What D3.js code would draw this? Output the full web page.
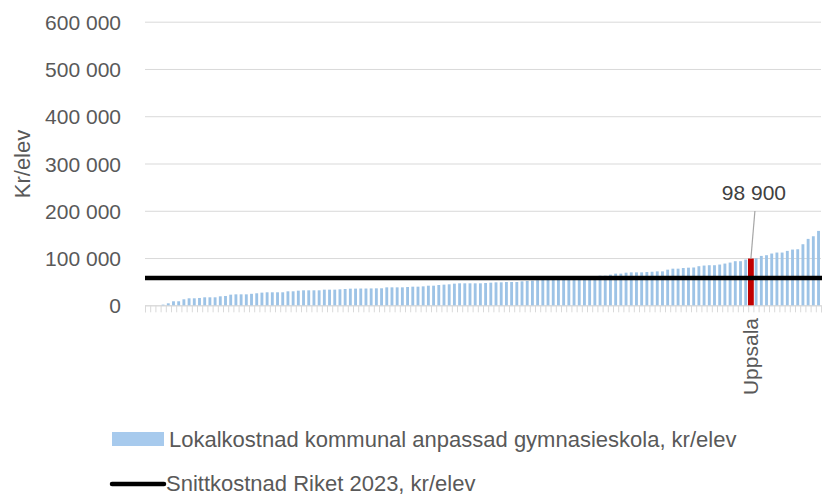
<!DOCTYPE html>
<html>
<head>
<meta charset="utf-8">
<script src="https://cdn.jsdelivr.net/npm/d3@7"></script>
<style>
  body { margin: 0; background: #fff; }
  svg { display: block; font-family: "Liberation Sans", Arial, sans-serif; }
  .yaxis text { fill: #595959; font-size: 21px; }
  .yaxis line { stroke: #d9d9d9; }
  .xaxis line, .xaxis path { stroke: #d9d9d9; }
</style>
</head>
<body>
<svg id="chart" width="822" height="495"></svg>
<script>
// lokalkostnad per kommun, sorterad stigande (kr/elev)
const lokalkostnad = [
  0, 0, 0, 1400, 4200, 8500, 8500, 12700, 14800, 14800,
  15500, 16900, 16900, 16900, 19000, 19700, 22500, 23200, 23200, 23200,
  24300, 25400, 26800, 27500, 27500, 27500, 27500, 29600, 29600, 31000,
  31700, 31700, 31700, 31700, 33100, 33100, 33100, 33800, 34500, 35200,
  35300, 35500, 35500, 35700, 35900, 36000, 38000, 38000, 38000, 38000,
  38700, 39400, 39400, 40100, 41500, 41500, 42900, 43700, 44400, 45800,
  46500, 46500, 46500, 46500, 46500, 47200, 47900, 48600, 48600, 49300,
  49300, 49300, 50700, 51500, 52200, 53000, 53700, 54400, 55000, 55600,
  56200, 56800, 57500, 58200, 59000, 60000, 61500, 62700, 62700, 64800,
  67000, 67000, 69000, 69700, 69700, 69700, 70400, 71000, 71800, 71800,
  75400, 77500, 77500, 78900, 79600, 80000, 82700, 84100, 84800, 84800,
  86200, 88300, 90400, 93300, 93300, 96800, 98900, 99500, 104500, 106000,
  109500, 111600, 111600, 115100, 117900, 118600, 129200, 140500, 146100, 157400
];
const markeradKommun = "Uppsala";
const markeradIndex = 116;
const snittRiket = 58000;
const yTicks = [0, 100000, 200000, 300000, 400000, 500000, 600000];
const yTitel = "Kr/elev";
const legendStapel = "Lokalkostnad kommunal anpassad gymnasieskola, kr/elev";
const legendLinje = "Snittkostnad Riket 2023, kr/elev";

const svg = d3.select("#chart");
const plotLeft = 145, plotRight = 821, plotTop = 21.7, plotBottom = 305.3;

const x = d3.scaleBand()
  .domain(d3.range(lokalkostnad.length))
  .range([plotLeft, plotRight])
  .paddingInner(0.45)
  .paddingOuter(0.2);
const xEdges = d3.scaleLinear().domain([0, lokalkostnad.length]).range([plotLeft, plotRight]);
const y = d3.scaleLinear().domain([0, 600000]).range([plotBottom, plotTop]);

const fmt = d => d3.format(",")(d).replace(/,/g, "\u00a0");

// grid + labels
svg.append("g")
  .attr("class", "yaxis")
  .attr("transform", `translate(${plotLeft},0)`)
  .call(d3.axisLeft(y).tickValues(yTicks).tickSize(-(plotRight - plotLeft)).tickPadding(24).tickFormat(fmt))
  .call(g => g.select(".domain").remove())
  .call(g => g.selectAll("text").attr("dy", "0.36em"));

// category ticks under the baseline
svg.append("g")
  .attr("class", "xaxis")
  .attr("transform", `translate(0,${plotBottom})`)
  .call(d3.axisBottom(xEdges).tickValues(d3.range(lokalkostnad.length + 1)).tickSize(7).tickFormat(""));

svg.append("g")
  .selectAll("rect")
  .data(lokalkostnad)
  .join("rect")
  .attr("x", (d, i) => i === markeradIndex ? x(i) + x.bandwidth() / 2 - 2.9 : x(i))
  .attr("width", (d, i) => i === markeradIndex ? 5.8 : x.bandwidth())
  .attr("y", d => y(d))
  .attr("height", d => plotBottom - y(d))
  .attr("fill", (d, i) => i === markeradIndex ? "#c00000" : "#9dc3e6");

// rikssnitt
svg.append("line")
  .attr("x1", plotLeft).attr("x2", plotRight + 1)
  .attr("y1", y(snittRiket)).attr("y2", y(snittRiket))
  .attr("stroke", "#000").attr("stroke-width", 4.5);

// data label for the highlighted kommun
const hx = x(markeradIndex) + x.bandwidth() / 2;
const hv = lokalkostnad[markeradIndex];
svg.append("line")
  .attr("x1", hx + 4).attr("y1", 211)
  .attr("x2", hx).attr("y2", y(hv))
  .attr("stroke", "#a6a6a6").attr("stroke-width", 1.2);
svg.append("text")
  .attr("x", hx + 3).attr("y", 200)
  .attr("text-anchor", "middle")
  .attr("fill", "#404040")
  .attr("font-size", 21)
  .text(fmt(hv));

svg.append("text")
  .attr("transform", `translate(${hx + 7},318) rotate(-90)`)
  .attr("text-anchor", "end")
  .attr("fill", "#595959")
  .attr("font-size", 21)
  .text(markeradKommun);

svg.append("text")
  .attr("transform", `translate(30,164) rotate(-90)`)
  .attr("text-anchor", "middle")
  .attr("fill", "#595959")
  .attr("font-size", 22)
  .text(yTitel);

// legend
const legend = svg.append("g").attr("fill", "#595959").attr("font-size", 22);
legend.append("rect").attr("x", 112).attr("y", 432).attr("width", 52).attr("height", 14).attr("fill", "#a7caed");
legend.append("text").attr("x", 169).attr("y", 447).text(legendStapel);
legend.append("line").attr("x1", 112).attr("x2", 164).attr("y1", 484).attr("y2", 484)
  .attr("stroke", "#000").attr("stroke-width", 4.5).attr("stroke-linecap", "round");
legend.append("text").attr("x", 166).attr("y", 491).text(legendLinje);
</script>
</body>
</html>
